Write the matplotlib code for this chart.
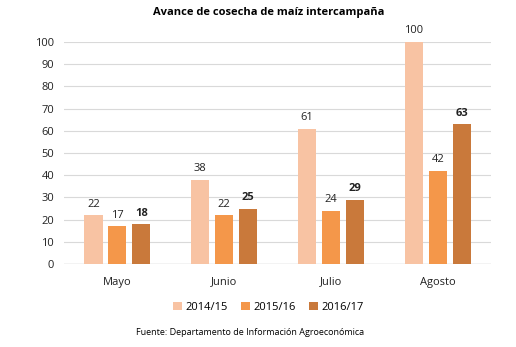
import numpy as np
import matplotlib.pyplot as plt

# Data
meses = ['Mayo', 'Junio', 'Julio', 'Agosto']
c2014 = [22, 38, 61, 100]
c2015 = [17, 22, 24, 42]
c2016 = [18, 25, 29, 63]

plt.rcParams['font.family'] = ['Open Sans', 'DejaVu Sans']

fig = plt.figure(figsize=(5.16, 3.47), dpi=100)
ax = fig.add_axes([0.124, 0.239, 0.828, 0.640])

x = np.arange(len(meses))
w = 0.17
off = 0.224
series = [
    (c2014, '2014/15', '#F8C3A3', -off, 'normal'),
    (c2015, '2015/16', '#F4974A', 0, 'normal'),
    (c2016, '2016/17', '#C9793B', off, 'bold'),
]
for vals, lab, col, d, fw in series:
    bars = ax.bar(x + d, vals, w, color=col, label=lab, zorder=3)
    for b, v in zip(bars, vals):
        ax.text(b.get_x() + b.get_width() / 2, v + 2.5, str(v), ha='center', va='bottom',
                fontsize=8, fontweight=fw, color='#222222')

ax.set_xlim(-0.5, 3.5)
ax.set_ylim(0, 100)
ax.set_yticks(range(0, 101, 10))
ax.set_xticks(x)
ax.set_xticklabels(meses)
ax.grid(axis='y', color='#D9D9D9', linewidth=0.8, zorder=0)
for s in ax.spines.values():
    s.set_visible(False)
ax.axhline(0, color='#D0D0D0', linewidth=1, zorder=2)
ax.tick_params(length=0, labelsize=8, colors='#222222')
ax.tick_params(axis='x', pad=9)
ax.tick_params(axis='y', pad=7)

fig.text(0.52, 0.965, 'Avance de cosecha de maíz intercampaña', ha='center', va='center',
         fontsize=8, fontweight='bold')
fig.legend(loc='center', bbox_to_anchor=(0.52, 0.115), ncol=3, frameon=False, fontsize=8,
           handlelength=0.8, handleheight=0.8, handletextpad=0.3, columnspacing=1.2)
fig.text(0.485, 0.043, 'Fuente: Departamento de Información Agroeconómica', ha='center',
         va='center', fontsize=6.5)

fig.savefig('out.png', dpi=100)
